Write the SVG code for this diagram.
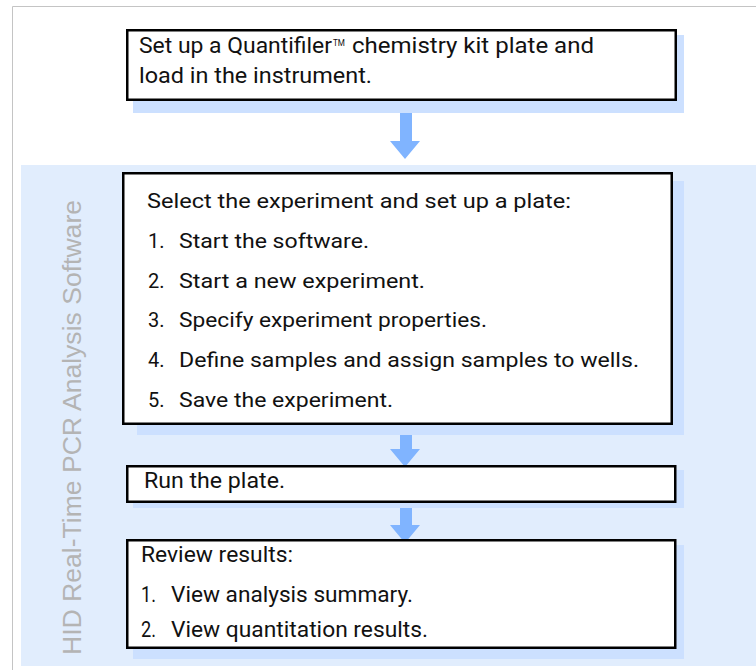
<svg xmlns="http://www.w3.org/2000/svg" width="756" height="670" viewBox="0 0 756 670">
  <defs>
    <style>
      .frame { fill: none; stroke: #c4c4c4; stroke-width: 1; }
      .band { fill: #e1edfd; }
      .shadow { fill: #cce0ff; }
      .box { fill: #ffffff; stroke: #000000; stroke-width: 2.5; }
      .txt { font-family: Roboto, "Liberation Sans", sans-serif; font-size: 20px; fill: #111111; }
      .cond { font-family: Roboto, "Liberation Sans", sans-serif; font-size: 22px; fill: #111111; }
      .tm { font-family: Roboto, "Liberation Sans", sans-serif; font-size: 9px; fill: #111111; }
      .side { font-family: "Liberation Sans", Arial, sans-serif; font-size: 26px; fill: #b4b4b4; }
      .arrow { fill: #80b4ff; }
    </style>
  </defs>

  <rect width="756" height="670" fill="#ffffff"/>

  <!-- page frame -->
  <path class="frame" d="M12.5,670 V6.5 H756"/>

  <!-- software band -->
  <rect class="band" x="21" y="165" width="735" height="501"/>
  <text class="side" transform="translate(81,655) rotate(-90)" textLength="455" lengthAdjust="spacingAndGlyphs">HID Real-Time PCR Analysis Software</text>

  <!-- connectors -->
  <g id="connectors">
    <polygon class="arrow" points="400,101 412,101 412,141 420,141 405,159 390,141 400,141"/>
    <polygon class="arrow" points="400,425 412,425 412,449 420,449 405,467 390,449 400,449"/>
    <polygon class="arrow" points="400,503 412,503 412,525 420,525 405,543 390,525 400,525"/>
  </g>

  <!-- step 1 -->
  <g id="setup-plate">
    <rect class="shadow" x="133" y="35" width="551" height="78"/>
    <rect class="box" x="127.25" y="30.25" width="548.5" height="69.5"/>
    <text class="cond" x="139" y="53" textLength="193" lengthAdjust="spacingAndGlyphs">Set up a Quantifiler</text>
    <text class="tm" x="333" y="46" textLength="12" lengthAdjust="spacingAndGlyphs">TM</text>
    <text class="cond" x="352" y="53" textLength="242" lengthAdjust="spacingAndGlyphs">chemistry kit plate and</text>
    <text class="cond" x="139" y="83" textLength="233" lengthAdjust="spacingAndGlyphs">load in the instrument.</text>
  </g>

  <!-- step 2 -->
  <g id="select-experiment">
    <rect class="shadow" x="137" y="181" width="547" height="254"/>
    <rect class="box" x="123.25" y="173.25" width="548.5" height="250.5"/>
    <text class="txt" x="147" y="208" textLength="424" lengthAdjust="spacingAndGlyphs">Select the experiment and set up a plate:</text>
    <text class="txt" x="148" y="248">1.</text>
    <text class="txt" x="179" y="248" textLength="190" lengthAdjust="spacingAndGlyphs">Start the software.</text>
    <text class="txt" x="148" y="287.5">2.</text>
    <text class="txt" x="179" y="287.5" textLength="246" lengthAdjust="spacingAndGlyphs">Start a new experiment.</text>
    <text class="txt" x="148" y="327">3.</text>
    <text class="txt" x="179" y="327" textLength="308" lengthAdjust="spacingAndGlyphs">Specify experiment properties.</text>
    <text class="txt" x="148" y="367">4.</text>
    <text class="txt" x="179" y="367" textLength="460" lengthAdjust="spacingAndGlyphs">Define samples and assign samples to wells.</text>
    <text class="txt" x="148" y="406.5">5.</text>
    <text class="txt" x="179" y="406.5" textLength="214" lengthAdjust="spacingAndGlyphs">Save the experiment.</text>
  </g>

  <!-- step 3 -->
  <g id="run-plate">
    <rect class="shadow" x="133" y="470" width="551" height="38"/>
    <rect class="box" x="127.25" y="466.25" width="548" height="35.5"/>
    <text class="cond" x="144" y="488" textLength="141" lengthAdjust="spacingAndGlyphs">Run the plate.</text>
  </g>

  <!-- step 4 -->
  <g id="review-results">
    <rect class="shadow" x="133" y="545" width="551" height="114"/>
    <rect class="box" x="127.25" y="540.25" width="548" height="107.5"/>
    <text class="cond" x="141" y="562" textLength="152" lengthAdjust="spacingAndGlyphs">Review results:</text>
    <text class="cond" x="141" y="602" textLength="15" lengthAdjust="spacingAndGlyphs">1.</text>
    <text class="cond" x="171" y="602" textLength="242" lengthAdjust="spacingAndGlyphs">View analysis summary.</text>
    <text class="cond" x="141" y="637" textLength="15" lengthAdjust="spacingAndGlyphs">2.</text>
    <text class="cond" x="171" y="637" textLength="257" lengthAdjust="spacingAndGlyphs">View quantitation results.</text>
  </g>
</svg>
